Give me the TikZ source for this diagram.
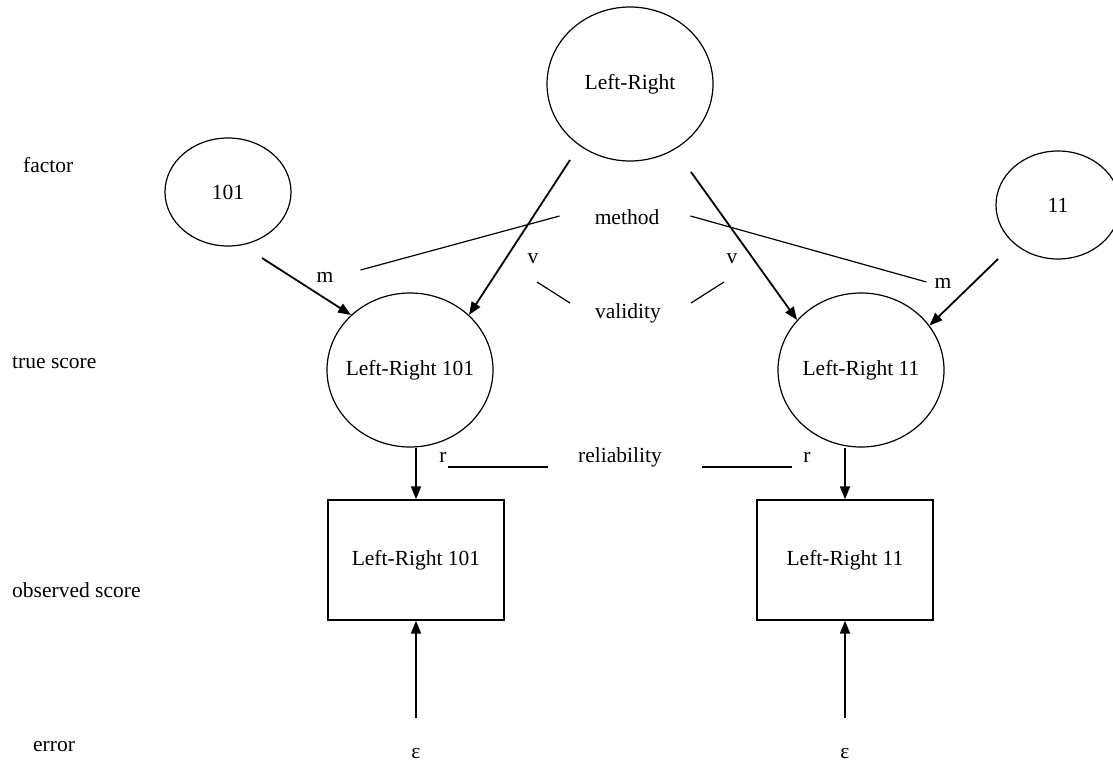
\documentclass[tikz,border=0pt]{standalone}
\usepackage{fontspec}
\setmainfont{Liberation Serif}
\usetikzlibrary{arrows.meta,shapes.geometric}

\begin{document}
\begin{tikzpicture}[x=1pt,y=-1pt, every node/.style={font=\fontsize{21.5}{26}\selectfont}, oval/.style={draw,ellipse,line width=1.2pt,inner sep=0pt}, big/.style={oval,minimum width=166pt,minimum height=154pt}, obs/.style={draw,line width=1.2pt,minimum width=176pt,minimum height=120pt}, lbl/.style={anchor=base,inner sep=0pt}, arr/.style={-{Triangle[length=13pt,width=10pt]},line width=1.8pt}, ln/.style={line width=1.2pt}]
\useasboundingbox (0,0) rectangle (1113,765);
\node[lbl,anchor=base west] (fac) at (23,172) {factor};
\node[lbl,anchor=base west] (tru) at (12,368) {true score};
\node[lbl,anchor=base west] (obsl) at (12,597) {observed score};
\node[lbl,anchor=base west] (err) at (33,751) {error};
\node[big] (LR) at (630,84) {Left-Right};
\node[oval,minimum width=126pt,minimum height=108pt] (E101) at (228,192) {101};
\node[oval,minimum width=124pt,minimum height=108pt] (E11) at (1058,205) {11};
\node[big] (T101) at (410,370) {\makebox[0pt]{Left-Right 101}};
\node[big] (T11) at (861,370) {\makebox[0pt]{Left-Right 11}};
\node[obs] (O101) at (416,560) {Left-Right 101};
\node[obs] (O11) at (845,560) {Left-Right 11};
\node[lbl] (e101) at (416,758) {ε};
\node[lbl] (e11) at (845,758) {ε};
\node[lbl] (meth) at (627,224) {method};
\node[lbl] (val) at (628,318) {validity};
\node[lbl] (rel) at (620,462) {reliability};
\node[lbl] (mL) at (325,282) {m};
\node[lbl] (mR) at (943,288) {m};
\node[lbl] (vL) at (533,263) {v};
\node[lbl] (vR) at (732,263) {v};
\node[lbl] (rL) at (443,462) {r};
\node[lbl] (rR) at (807,462) {r};
\draw[arr] (E101) ++(34,66) -- (T101.137);
\draw[arr] (E11) ++(-60,54) -- (T11.33);
\draw[arr] (LR) ++(-60,76) -- (T101.43);
\draw[arr] (LR) ++(61,88) -- (T11.142);
\draw[arr] (T101.south -| O101.north) -- (O101.north);
\draw[arr] (T11.south -| O11.north) -- (O11.north);
\draw[arr] ([shift={(0,-30)}]e101.north) -- (O101.south);
\draw[arr] ([shift={(0,-30)}]e11.north) -- (O11.south);
\draw[ln] ([shift={(-35,-8)}]meth.base west) -- ([shift={(27,-12)}]mL.base east);
\draw[ln] ([shift={(31,-8)}]meth.base east) -- ([shift={(-8,-6)}]mR.base west);
\draw[ln] ([shift={(4,19)}]vL.base) -- ([shift={(-25,-15)}]val.base west);
\draw[ln] ([shift={(30,-15)}]val.base east) -- ([shift={(-8,19)}]vR.base);
\draw[ln] ([shift={(1,5)}]rL.base east) -- ([shift={(-30,5)}]rel.base west);
\draw[ln] ([shift={(40,5)}]rel.base east) -- ([shift={(-11,5)}]rR.base west);
\end{tikzpicture}
\end{document}
